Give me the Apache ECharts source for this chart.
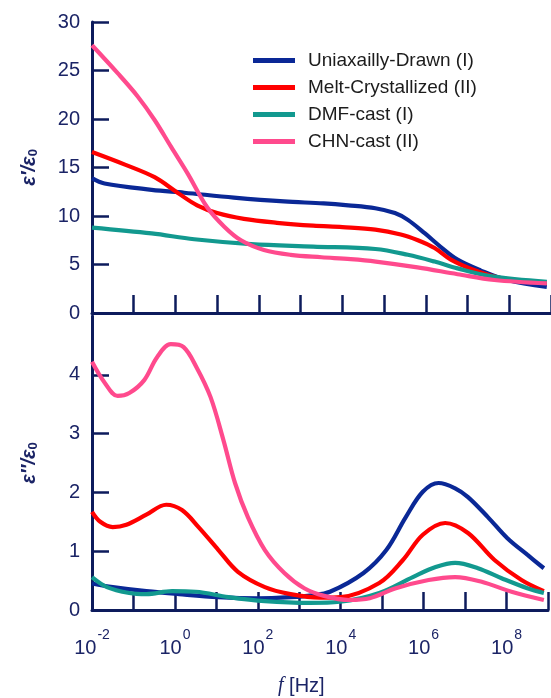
<!DOCTYPE html>
<html>
<head>
<meta charset="utf-8">
<title>Dielectric spectra</title>
<script src="https://cdn.jsdelivr.net/npm/echarts@6/dist/echarts.min.js"></script>
<style>
  html, body { margin: 0; padding: 0; background: #fff; }
  #chart { width: 551px; height: 698px; }
</style>
</head>
<body>
<div id="chart"></div>
<script>
// Series names (legend order)
const seriesNames = ['Uniaxailly-Drawn (I)', 'Melt-Crystallized (II)', 'DMF-cast (I)', 'CHN-cast (II)'];

// Real permittivity, pairs of [log10(f / Hz), value]
const uniaxialReal = [[-2,13.9],[-1.7,13.35],[-0.57,12.7],[0.21,12.4],[1.4,11.9],[2.6,11.5],[3.55,11.3],[4.14,11.1],[4.79,10.8],[5.26,10.3],[5.57,9.6],[5.98,8.2],[6.36,6.8],[6.76,5.5],[7.31,4.4],[7.95,3.4],[8.9,2.7]];
const meltReal = [[-2,16.6],[-1.21,15.3],[-0.5,14.0],[0.05,12.4],[0.52,11.1],[1.0,10.3],[1.64,9.7],[2.43,9.3],[3.3,9.0],[4.0,8.85],[4.79,8.6],[5.4,8.1],[5.81,7.5],[6.21,6.7],[6.6,5.5],[7.17,4.4],[7.79,3.6],[8.9,3.1]];
const dmfReal = [[-2,8.8],[-0.57,8.2],[0.45,7.6],[1.81,7.1],[3.3,6.85],[4.79,6.6],[5.57,6.0],[6.21,5.3],[6.76,4.6],[7.55,3.8],[8.9,3.2]];
const chnReal = [[-2,27.6],[-1.38,24.7],[-0.9,22.3],[-0.5,19.9],[-0.1,17.1],[0.29,14.4],[0.76,10.9],[1.17,8.9],[1.57,7.5],[2.12,6.5],[2.76,6.0],[3.5,5.75],[4.2,5.55],[4.8,5.3],[5.8,4.7],[6.76,4.0],[7.64,3.4],[8.9,3.05]];

// Dielectric loss, pairs of [log10(f / Hz), value]
const uniaxialLoss = [[-2,0.45],[-1.5,0.39],[-0.69,0.32],[0.1,0.27],[1.05,0.22],[2,0.2],[2.8,0.22],[3.3,0.25],[3.74,0.31],[4.55,0.63],[5.1,1.02],[5.57,1.58],[5.98,2.01],[6.36,2.16],[6.76,2.07],[7.07,1.92],[7.55,1.58],[8.02,1.22],[8.5,0.94],[8.9,0.71]];
const meltLoss = [[-2,1.67],[-1.8,1.5],[-1.5,1.41],[-1.17,1.45],[-0.69,1.62],[-0.21,1.79],[0.17,1.7],[0.57,1.41],[1.05,1.02],[1.52,0.65],[2.17,0.39],[2.79,0.27],[3.5,0.21],[4.0,0.22],[4.93,0.46],[5.5,0.85],[5.98,1.28],[6.52,1.48],[7.07,1.31],[7.71,0.85],[8.36,0.51],[8.9,0.32]];
const dmfLoss = [[-2,0.56],[-1.64,0.39],[-1.1,0.29],[-0.69,0.27],[-0.07,0.32],[0.5,0.31],[1.29,0.22],[2.17,0.15],[3.26,0.12],[3.98,0.14],[4.93,0.29],[5.74,0.56],[6.29,0.73],[6.76,0.8],[7.31,0.71],[7.88,0.54],[8.5,0.37],[8.9,0.29]];
const chnLoss = [[-2,4.22],[-1.69,3.86],[-1.38,3.64],[-1.1,3.69],[-0.74,3.91],[-0.43,4.3],[-0.1,4.52],[0.21,4.47],[0.52,4.13],[0.86,3.62],[1.17,2.89],[1.45,2.16],[1.76,1.58],[2.17,1.02],[2.64,0.63],[3.12,0.37],[3.6,0.24],[4.2,0.17],[4.7,0.2],[5.33,0.37],[6.12,0.51],[6.76,0.56],[7.4,0.48],[8.12,0.31],[8.9,0.17]];

// Axis ranges and ticks
const freqMin = 1e-2, freqMax = 1e9;
const realTicks = { min: 0, max: 30, step: 5 };
const lossTicks = { min: 0, max: 5, step: 1 };

const colors = ['#0a2896', '#ff0000', '#12998f', '#ff4a8d'];
const navy = '#0d1b5c';
const labelColor = '#1b2466';

const toFreq = pts => pts.map(p => [Math.pow(10, p[0]), p[1]]);

const chart = echarts.init(document.getElementById('chart'), null, { renderer: 'canvas' });

const xAxisCommon = {
  type: 'log',
  logBase: 10,
  min: freqMin,
  max: freqMax,
  interval: 1,
  axisLine: { onZero: false, lineStyle: { color: navy, width: 3 } },
  axisTick: { inside: true, length: 18, lineStyle: { color: navy, width: 2.5 } },
  minorTick: { show: false },
  splitLine: { show: false }
};

const nameRich = {
  e: { fontSize: 20, fontWeight: 'bold', fontStyle: 'italic', color: labelColor, fontFamily: 'Liberation Sans, Arial' },
  s: { fontSize: 13, fontWeight: 'bold', color: labelColor, verticalAlign: 'bottom', padding: [9, 0, 0, 0] }
};

const yAxisCommon = {
  type: 'value',
  axisLine: { show: true, lineStyle: { color: navy, width: 3 } },
  axisTick: { show: true, inside: true, length: 17, lineStyle: { color: navy, width: 2.5 } },
  splitLine: { show: false },
  nameLocation: 'middle',
  nameRotate: 90,
  nameGap: 52,
  nameTextStyle: { rich: nameRich }
};

const supLabel = v => {
  const e = Math.round(Math.log10(v));
  if (e % 2 !== 0) return '';
  return '{b|10}{s|' + e + '}';
};

const lineSeries = (name, data, idx, axis) => ({
  name: name,
  type: 'line',
  xAxisIndex: axis,
  yAxisIndex: axis,
  data: toFreq(data),
  smooth: 0.35,
  showSymbol: false,
  symbol: 'none',
  lineStyle: { color: colors[idx], width: 4.2 },
  itemStyle: { color: colors[idx] },
  animation: false
});

const option = {
  backgroundColor: '#ffffff',
  animation: false,
  textStyle: { fontFamily: 'Liberation Sans, Arial, sans-serif' },
  legend: {
    orient: 'vertical',
    left: 248,
    top: 46,
    itemWidth: 42,
    itemHeight: 5,
    itemGap: 8,
    icon: 'rect',
    data: seriesNames,
    textStyle: { fontSize: 19, color: '#1c1c1c', padding: [0, 0, 0, 8] }
  },
  grid: [
    { left: 92, top: 22, width: 462, height: 291 },
    { left: 92, top: 316, width: 462, height: 294 }
  ],
  xAxis: [
    Object.assign({}, xAxisCommon, {
      gridIndex: 0,
      axisLabel: { show: false }
    }),
    Object.assign({}, xAxisCommon, {
      gridIndex: 1,
      axisLabel: {
        show: true,
        margin: 18,
        formatter: supLabel,
        color: labelColor,
        rich: {
          b: { fontSize: 20, color: labelColor, lineHeight: 30, verticalAlign: 'bottom' },
          s: { fontSize: 14, color: labelColor, lineHeight: 30, verticalAlign: 'top', padding: [0, 0, 0, 1] }
        }
      }
    })
  ],
  yAxis: [
    Object.assign({}, yAxisCommon, {
      gridIndex: 0,
      min: realTicks.min,
      max: realTicks.max,
      interval: realTicks.step,
      axisLabel: { fontSize: 20, color: labelColor, margin: 12 },
      name: '{e|ε′/ε}{s|0}'
    }),
    Object.assign({}, yAxisCommon, {
      gridIndex: 1,
      min: lossTicks.min,
      max: lossTicks.max,
      interval: lossTicks.step,
      axisLabel: { fontSize: 20, color: labelColor, margin: 12, showMaxLabel: false,
        formatter: v => (v === lossTicks.max ? '' : String(v)) },
      name: '{e|ε″/ε}{s|0}'
    })
  ],
  graphic: [
    {
      type: 'text',
      left: 278,
      top: 676,
      style: {
        text: '{i|f} [Hz]',
        rich: {
          i: { fontSize: 20, fontStyle: 'italic', fontFamily: 'Liberation Serif, Times New Roman, serif', fill: labelColor }
        },
        fontSize: 20,
        fill: labelColor,
        fontFamily: 'Liberation Sans, Arial'
      }
    }
  ],
  series: [
    lineSeries(seriesNames[0], uniaxialReal, 0, 0),
    lineSeries(seriesNames[1], meltReal, 1, 0),
    lineSeries(seriesNames[2], dmfReal, 2, 0),
    lineSeries(seriesNames[3], chnReal, 3, 0),
    lineSeries(seriesNames[0], uniaxialLoss, 0, 1),
    lineSeries(seriesNames[1], meltLoss, 1, 1),
    lineSeries(seriesNames[2], dmfLoss, 2, 1),
    lineSeries(seriesNames[3], chnLoss, 3, 1)
  ]
};

chart.setOption(option);
</script>
</body>
</html>
